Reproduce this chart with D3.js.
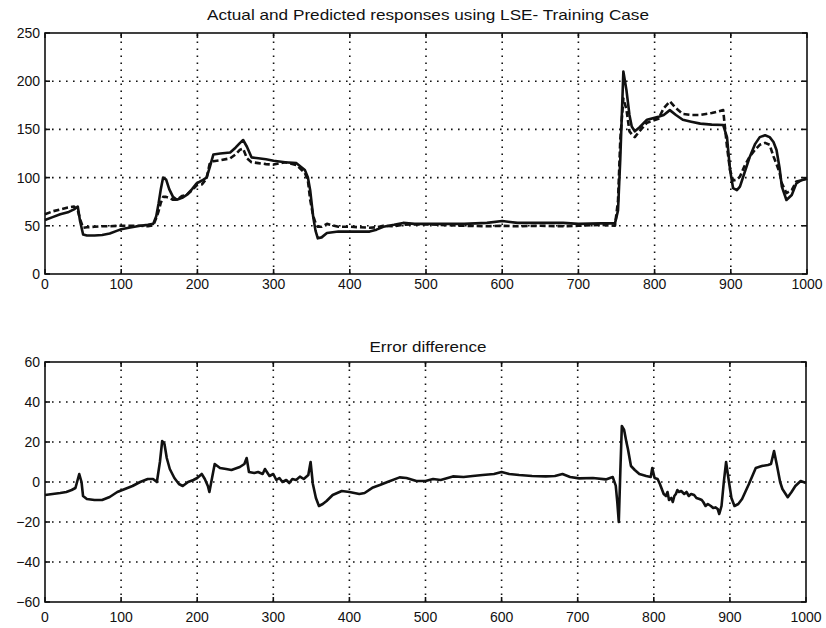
<!DOCTYPE html>
<html>
<head>
<meta charset="utf-8">
<script src="https://cdn.jsdelivr.net/npm/d3@7"></script>
<style>
  body { margin: 0; background: #fff; }
  text { font-family: Arial, 'Liberation Sans', Helvetica, sans-serif; fill: #111; }
</style>
</head>
<body>
<div id="chart"></div>
<script>
//
//    Data
//
const xTicks = [0, 100, 200, 300, 400, 500, 600, 700, 800, 900, 1000]
const topYTicks = [0, 50, 100, 150, 200, 250]
const errYTicks = [-60, -40, -20, 0, 20, 40, 60]

const topTitle = 'Actual and Predicted responses using LSE- Training Case'
const errTitle = 'Error difference'

// sample index for actual / predicted
const respX = [0, 10, 20, 30, 38, 43, 46, 50, 55, 65, 75, 85, 95, 100, 110, 125, 135, 142, 146, 149,
  152, 155, 159, 163, 168, 173, 180, 186, 193, 199, 206, 212, 216, 221, 230, 243, 250, 256, 260, 265,
  271, 280, 290, 300, 315, 330, 341, 345, 348, 352, 355, 358, 363, 370, 385, 400, 426, 435, 444, 458,
  470, 485, 500, 550, 580, 600, 620, 650, 680, 700, 730, 748, 752, 755, 759, 763, 767, 770, 774, 780,
  790, 805, 812, 820, 828, 837, 848, 860, 875, 890, 895, 899, 903, 908, 912, 918, 925, 932, 938, 945,
  951, 956, 960, 964, 967, 973, 980, 986, 992, 1000]

const actual = [56, 59, 62, 64, 67, 70, 55, 41, 40, 40, 40.5, 42, 45, 46.5, 48, 50, 51, 52, 60, 73,
  88, 100, 98, 88, 80, 77, 79, 82, 88, 94, 97, 100, 110, 124, 125, 126, 131, 136, 139, 132,
  121, 120, 119, 117.5, 116, 115, 108, 100, 87, 59, 45, 37, 38, 42.5, 44, 44, 44, 46, 49, 51,
  53, 52, 52, 52, 53, 55, 53, 53, 53, 52, 52.5, 52.5, 66, 120, 210, 191, 165, 153, 148, 152,
  160, 163, 165, 170, 165, 160, 158, 156, 155, 154.5, 142, 108, 89, 87, 90.6, 105, 121.7, 135, 142, 144,
  142, 137, 128.6, 110, 90.6, 76.8, 82, 94, 97, 99]

const predicted = [62, 65, 67, 69, 70, 66, 57, 48, 48.5, 49, 49.5, 49.5, 50, 50, 50, 50, 49.5, 50.5, 58, 65,
  74, 80, 80, 79, 77, 77, 81, 82, 87, 92, 93, 99, 114, 117, 118, 120, 124, 129, 130, 120,
  116, 115, 114, 113.5, 116, 113, 105, 97, 77, 60, 53, 49, 49, 52, 49, 49, 48, 48.5, 50, 49.5,
  51, 51.5, 51.5, 50, 49.5, 50, 49.5, 50, 49.5, 50, 51, 50, 76, 140, 182, 171, 148, 145, 142, 148,
  157, 161, 172, 179, 172, 166, 165, 165, 167, 170, 132, 108, 97, 98, 101, 112, 122, 129, 134, 136,
  134, 122, 114, 105, 94, 84, 87, 96, 97, 99]

// sample index for error difference
const errX = [0, 10, 20, 28, 35, 40, 45, 48, 50, 55, 65, 75, 85, 95, 105, 115, 125, 135, 142, 147,
  151, 154, 157, 160, 164, 170, 176, 181, 188, 195, 200, 206, 210, 214, 216, 219, 223, 230, 238, 245,
  256, 262, 265, 268, 275, 280, 286, 289, 295, 300, 304, 308, 312, 317, 321, 325, 330, 335, 340, 346,
  349, 352, 356, 360, 365, 370, 378, 390, 400, 413, 420, 431, 440, 450, 466, 475, 488, 500, 510, 520,
  536, 550, 562, 575, 590, 600, 610, 623, 640, 658, 670, 680, 690, 702, 720, 737, 746, 750, 752, 754,
  756, 758, 761, 764, 766, 770, 775, 781, 790, 796, 798, 801, 805, 808, 810, 813, 816, 818, 820, 823,
  825, 827, 829, 831, 833, 836, 840, 843, 846, 849, 853, 856, 860, 863, 865, 868, 871, 875, 878, 881,
  884, 886, 889, 892, 895, 898, 902, 906, 911, 916, 925, 934, 942, 950, 954, 958, 962, 966, 969, 976,
  981, 986, 993, 1000]

const errVals = [-6.5, -6, -5.5, -5, -4, -3, 4, 0, -7, -8.5, -9, -9, -7.5, -5, -3.5, -2, 0, 1.5, 1.5, 0,
  10, 20.5, 19, 12, 6.5, 2, -1, -2, 0, 1, 2, 4, 1.5, -2, -5, 1, 9, 7, 6.5, 6,
  7.5, 9, 12, 5, 4.5, 5, 4, 6.5, 3, 4, 1, 2, 0, 1, -0.5, 1.5, 1, 2.7, 1.5, 3.5,
  10, -1, -8, -12, -11, -9.5, -6.5, -4.5, -5, -6, -5.5, -2.7, -1.5, 0, 2.3, 2, 0.5, 0.5, 1.5, 1,
  2.8, 2.5, 3, 3.5, 4, 5, 4, 3.5, 3, 2.8, 3, 4, 2.5, 1.8, 2, 1.3, 2.5, -1.8, -10, -20,
  5, 28, 26, 20, 16.5, 8, 6, 4, 3, 2.5, 7, 2, 1.5, -1, -3, -6, -7, -5, -9, -8,
  -10, -7, -6, -4, -5, -4.5, -6, -5, -7, -6, -6.5, -8, -8.5, -9, -10, -12, -11, -12, -13, -12.7,
  -13.5, -16, -12, 0, 10, 2, -8, -12, -11, -8.5, -1, 7, 8, 8.5, 9, 15.5, 8, 0, -3.5, -7.6,
  -5, -2, 0.5, -0.5]

//
//    Drawing
//
const width = 826
const height = 628

const svg = d3.select('#chart').append('svg')
  .attr('width', width)
  .attr('height', height)

const topPanel = {
  x: d3.scaleLinear().domain([0, 1000]).range([45, 807]),
  y: d3.scaleLinear().domain([0, 250]).range([274, 33]),
  yTicks: topYTicks,
  xLabelDy: 15,
  title: topTitle,
  titleY: 20,
  titleWidth: 442
}

const errPanel = {
  x: d3.scaleLinear().domain([0, 1000]).range([45, 806]),
  y: d3.scaleLinear().domain([-60, 60]).range([602, 362]),
  yTicks: errYTicks,
  xLabelDy: 20,
  title: errTitle,
  titleY: 352,
  titleWidth: 117
}

drawPanel(svg, topPanel)
drawLine(svg, topPanel, respX, predicted, '6,3')
drawLine(svg, topPanel, respX, actual, null)
drawFrame(svg, topPanel)

drawPanel(svg, errPanel)
drawLine(svg, errPanel, errX, errVals, null)
drawFrame(svg, errPanel)

function drawPanel (svg, p) {
  const [x0, x1] = p.x.range()
  const [y0, y1] = p.y.range()
  const g = svg.append('g')

  // dotted grid
  g.selectAll('.vgrid')
    .data(xTicks.slice(1, -1))
    .enter()
    .append('line')
      .attr('x1', d => p.x(d)).attr('x2', d => p.x(d))
      .attr('y1', y0).attr('y2', y1)
      .attr('stroke', '#111')
      .attr('stroke-width', 1.6)
      .attr('stroke-dasharray', '1.6,5.4')
  g.selectAll('.hgrid')
    .data(p.yTicks.slice(1, -1))
    .enter()
    .append('line')
      .attr('x1', x0).attr('x2', x1)
      .attr('y1', d => p.y(d)).attr('y2', d => p.y(d))
      .attr('stroke', '#111')
      .attr('stroke-width', 1.6)
      .attr('stroke-dasharray', '1.6,5.4')

  // tick labels
  g.selectAll('.xlab')
    .data(xTicks)
    .enter()
    .append('text')
      .attr('x', d => p.x(d))
      .attr('y', y0 + p.xLabelDy)
      .attr('text-anchor', 'middle')
      .attr('font-size', 14)
      .text(d => d)
  g.selectAll('.ylab')
    .data(p.yTicks)
    .enter()
    .append('text')
      .attr('x', x0 - 5)
      .attr('y', d => p.y(d))
      .attr('dy', '0.36em')
      .attr('text-anchor', 'end')
      .attr('font-size', 14)
      .text(d => d < 0 ? '\u2212' + Math.abs(d) : d)

  g.append('text')
    .attr('x', 428)
    .attr('y', p.titleY)
    .attr('text-anchor', 'middle')
    .attr('font-size', 15)
    .attr('textLength', p.titleWidth)
    .attr('lengthAdjust', 'spacingAndGlyphs')
    .text(p.title)
}

function drawLine (svg, p, xs, ys, dash) {
  const pts = xs.map((x, i) => [x, ys[i]])
  const line = d3.line()
    .x(d => p.x(d[0]))
    .y(d => p.y(d[1]))
  svg.append('path')
    .datum(pts)
    .attr('d', line)
    .attr('fill', 'none')
    .attr('stroke', '#111')
    .attr('stroke-width', 2.6)
    .attr('stroke-linejoin', 'round')
    .attr('stroke-dasharray', dash)
}

function drawFrame (svg, p) {
  const [x0, x1] = p.x.range()
  const [y0, y1] = p.y.range()
  const g = svg.append('g')
  g.append('rect')
    .attr('x', x0).attr('y', y1)
    .attr('width', x1 - x0).attr('height', y0 - y1)
    .attr('fill', 'none')
    .attr('stroke', '#111')
    .attr('stroke-width', 1.6)
  // inward ticks on all four sides
  const tl = 5
  xTicks.forEach(t => {
    g.append('line').attr('x1', p.x(t)).attr('x2', p.x(t)).attr('y1', y0).attr('y2', y0 - tl)
      .attr('stroke', '#111').attr('stroke-width', 1.6)
    g.append('line').attr('x1', p.x(t)).attr('x2', p.x(t)).attr('y1', y1).attr('y2', y1 + tl)
      .attr('stroke', '#111').attr('stroke-width', 1.6)
  })
  p.yTicks.forEach(t => {
    g.append('line').attr('x1', x0).attr('x2', x0 + tl).attr('y1', p.y(t)).attr('y2', p.y(t))
      .attr('stroke', '#111').attr('stroke-width', 1.6)
    g.append('line').attr('x1', x1).attr('x2', x1 - tl).attr('y1', p.y(t)).attr('y2', p.y(t))
      .attr('stroke', '#111').attr('stroke-width', 1.6)
  })
}
</script>
</body>
</html>
